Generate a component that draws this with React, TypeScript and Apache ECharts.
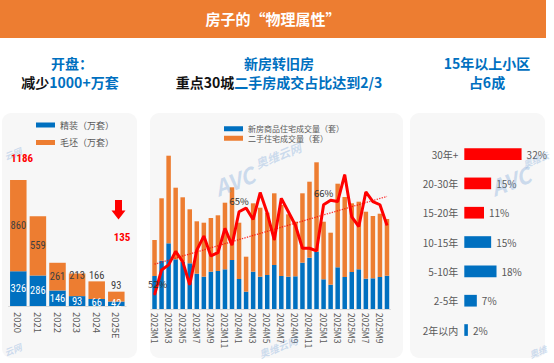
import React, { useEffect, useRef } from "react";
import * as echarts from "echarts";

// ---- Left panel: 开盘 (万套)
const leftYears = ["2020", "2021", "2022", "2023", "2024", "2025E"];
const leftDecorated = [326, 286, 146, 93, 66, 42];
const leftRough = [860, 559, 261, 213, 166, 93];
const leftRoughLabelPos = ["inside", "inside", "inside", "insideTop", "top", "top"];
const leftTotalFirst = "1186";
const leftTotalLast = "135";

// ---- Middle panel: 30城 成交 (relative units)
const months = [
  "2023M1", "2023M2", "2023M3", "2023M4", "2023M5", "2023M6", "2023M7", "2023M8", "2023M9", "2023M10", "2023M11", "2023M12",
  "2024M1", "2024M2", "2024M3", "2024M4", "2024M5", "2024M6", "2024M7", "2024M8", "2024M9", "2024M10", "2024M11", "2024M12",
  "2025M1", "2025M2", "2025M3", "2025M4", "2025M5", "2025M6", "2025M7", "2025M8", "2025M9", "2025M10",
];
const newHomes = [
  33, 48.3, 65.7, 49.7, 47.3, 45.7, 35.3, 32.3, 37.3, 38, 39.7, 49,
  30, 17.3, 37.3, 32.3, 34, 44, 33, 32.3, 32.7, 46.3, 51.3, 57.3,
  29.7, 24.3, 41.7, 32, 37, 39.7, 30.3, 30.7, 32, 33.3,
];
const secondHomes = [
  36, 62.4, 87.6, 71.6, 64.4, 54, 52.4, 54, 53.7, 55.7, 66.6, 72.7,
  56.3, 35, 68.4, 69, 62.3, 71.7, 71, 62.4, 54.6, 69.4, 76, 89.4,
  57.6, 52, 83.6, 80, 68.7, 67.6, 67, 62.3, 63.3, 56.7,
];
const secondShare = [
  52, 55.9, 56.7, 58.8, 57.2, 53.6, 59, 61.2, 58.1, 58.6, 62.4, 59.8,
  65, 65.6, 63.8, 68, 64.8, 60.6, 67.1, 65, 62.9, 59.3, 59.3, 58.9,
  66.1, 66.8, 66.6, 70.8, 64.2, 62.7, 68.1, 66.6, 66.1, 62.9,
];
const shareLabelIndex = [0, 12, 24];
const trendEnds = [56.8, 67.4];

// ---- Right panel: 房龄结构
const ageCats = ["30年+", "20-30年", "15-20年", "10-15年", "5-10年", "2-5年", "2年以内"];
const ageShares = [32, 15, 11, 15, 18, 7, 2];
const ageHighlight = [true, true, true, false, false, false, false];

const BLUE = "#0070C0";
const ORANGE = "#ED7D31";
const RED = "#FF0000";
const GRAY = "#595959";
const FONT = "'Noto Sans CJK SC', 'Noto Sans', sans-serif";
const NUMFONT = "'Liberation Sans Narrow', 'Roboto Condensed', 'Noto Sans CJK SC', sans-serif";

function txt(x: number, y: number, style: any, extra: any = {}) {
  return {
    type: "text",
    x,
    y,
    ...extra,
    style: {
      align: "center",
      verticalAlign: "middle",
      textAlign: "center",
      textVerticalAlign: "middle",
      fontFamily: FONT,
      ...style,
    },
  };
}

function watermark(x: number, y: number, text: string, size: number) {
  return txt(
    x,
    y,
    { text, fill: "rgba(120,165,215,0.35)", fontSize: size, fontWeight: "bold", fontStyle: "italic" },
    { rotation: 0.38, z: 100 }
  );
}

const titleRich = (a: string, b: string) => ({
  text: `{k|${a}}{b|${b}}`,
  lineHeight: 16,
  rich: {
    k: { fill: "#111111", fontSize: 14, fontWeight: "bold", fontFamily: FONT, lineHeight: 16 },
    b: { fill: BLUE, fontSize: 14, fontWeight: "bold", fontFamily: FONT, lineHeight: 16 },
  },
});

export default function App() {
  const ref = useRef<HTMLDivElement>(null);

  useEffect(() => {
    if (!ref.current) return;
    const chart = echarts.init(ref.current, null, { renderer: "svg" });

    const panel = (x: number, w: number) => ({
      type: "rect",
      z: -10,
      shape: { x, y: 113, width: w, height: 245, r: 9 },
      style: { fill: "#F7F7F7" },
    });

    const blueTitle = (text: string) => ({ text, fill: BLUE, fontSize: 14, fontWeight: "bold", lineHeight: 16 });

    const option: any = {
      animation: false,
      backgroundColor: "#ffffff",
      textStyle: { fontFamily: FONT },
      graphic: [
        { type: "rect", z: -10, shape: { x: 0, y: 0, width: 546, height: 38 }, style: { fill: ORANGE } },
        txt(273, 18, { text: "房子的“物理属性”", fill: "#ffffff", fontSize: 15, fontWeight: "bold" }),
        panel(2, 135),
        panel(150, 253),
        panel(410, 135),
        txt(72, 62.5, blueTitle("开盘：")),
        txt(70, 81.5, titleRich("减少", "1000+万套")),
        txt(279, 62.5, blueTitle("新房转旧房")),
        txt(279, 81.5, titleRich("重点30城", "二手房成交占比达到2/3")),
        txt(487, 62.5, blueTitle("15年以上小区")),
        txt(487, 81.5, blueTitle("占6成")),
        // left annotations
        txt(22, 158, { text: leftTotalFirst, fill: RED, fontSize: 11, fontWeight: "bold", fontFamily: NUMFONT }),
        txt(122, 237, { text: leftTotalLast, fill: RED, fontSize: 11, fontWeight: "bold", fontFamily: NUMFONT }),
        {
          type: "polygon",
          shape: {
            points: [
              [115, 200], [122, 200], [122, 210.5], [125.5, 210.5], [118.5, 219.5], [111.5, 210.5], [115, 210.5],
            ],
          },
          style: { fill: RED },
        },
        // watermarks
        watermark(234, 180, "AVC", 22),
        watermark(278, 155, "奥维云网", 12),
        watermark(510, 180, "AVC", 22),
        watermark(536, 160, "奥维云", 9),
        watermark(13, 154, "云网", 9),
        watermark(13, 350, "云网", 9),
        watermark(278, 347, "奥维云网", 10),
        watermark(538, 352, "奥维", 9),
      ],
      legend: [
        {
          orient: "vertical",
          left: 31,
          top: 114,
          itemWidth: 19,
          itemHeight: 5,
          itemGap: 5.5,
          icon: "rect",
          textStyle: { fontSize: 9, color: GRAY, lineHeight: 12, fontFamily: FONT },
          data: ["精装（万套）", "毛坯（万套）"],
        },
        {
          orient: "vertical",
          left: 219,
          top: 119,
          itemWidth: 19,
          itemHeight: 5,
          itemGap: 0,
          icon: "rect",
          textStyle: { fontSize: 8, color: GRAY, lineHeight: 9.5, fontFamily: FONT },
          data: ["新房商品住宅成交量（套）", "二手住宅成交量（套）"],
        },
      ],
      grid: [
        { left: 8.5, width: 117.6, top: 157.3, bottom: 57 },
        { left: 151, right: 163.5, top: 150, bottom: 54 },
        { left: 464.3, right: 18.1, top: 139.4, bottom: 18.3 },
      ],
      xAxis: [
        {
          type: "category",
          gridIndex: 0,
          data: leftYears,
          axisLine: { lineStyle: { color: "#D9D9D9" } },
          axisTick: { show: false },
          axisLabel: { rotate: -90, fontSize: 9.5, color: GRAY, margin: 6, fontFamily: FONT },
        },
        {
          type: "category",
          gridIndex: 1,
          data: months,
          axisLine: { lineStyle: { color: "#D9D9D9" } },
          axisTick: { show: false },
          axisLabel: { rotate: -90, interval: 1, fontSize: 8.5, color: GRAY, margin: 4, fontFamily: FONT },
        },
        { type: "value", gridIndex: 2, min: 0, max: 40, show: false },
      ],
      yAxis: [
        { type: "value", gridIndex: 0, min: 0, max: 1400, show: false },
        { type: "value", gridIndex: 1, min: 0, max: 159, show: false },
        { type: "value", gridIndex: 1, min: 49.8, max: 74.66, show: false },
        {
          type: "category",
          gridIndex: 2,
          data: ageCats,
          inverse: true,
          axisLine: { show: false },
          axisTick: { show: false },
          axisLabel: { fontSize: 10, color: GRAY, margin: 6, fontFamily: FONT },
        },
      ],
      series: [
        {
          name: "精装（万套）",
          type: "bar",
          stack: "left",
          xAxisIndex: 0,
          yAxisIndex: 0,
          barWidth: 16.5,
          itemStyle: { color: BLUE },
          label: { show: true, position: "inside", color: "#ffffff", fontSize: 10.5, fontFamily: NUMFONT },
          data: leftDecorated,
        },
        {
          name: "毛坯（万套）",
          type: "bar",
          stack: "left",
          xAxisIndex: 0,
          yAxisIndex: 0,
          barWidth: 16.5,
          itemStyle: { color: ORANGE },
          data: leftRough.map((v, i) => ({
            value: v,
            label: {
              show: true,
              position: leftRoughLabelPos[i],
              distance: leftRoughLabelPos[i] === "insideTop" ? -3 : 1,
              color: "#404040",
              fontSize: 10.5,
              fontFamily: NUMFONT,
            },
          })),
        },
        {
          name: "新房商品住宅成交量（套）",
          type: "bar",
          stack: "mid",
          xAxisIndex: 1,
          yAxisIndex: 1,
          barWidth: 4.5,
          itemStyle: { color: BLUE },
          data: newHomes,
        },
        {
          name: "二手住宅成交量（套）",
          type: "bar",
          stack: "mid",
          xAxisIndex: 1,
          yAxisIndex: 1,
          barWidth: 4.5,
          itemStyle: { color: ORANGE },
          data: secondHomes,
        },
        {
          name: "二手房占比",
          type: "line",
          xAxisIndex: 1,
          yAxisIndex: 2,
          symbol: "circle",
          symbolSize: 1,
          showSymbol: true,
          showAllSymbol: true,
          z: 5,
          lineStyle: { color: RED, width: 3 },
          itemStyle: { color: RED },
          label: { show: false },
          data: secondShare.map((v, i) => ({
            value: v,
            label: {
              show: shareLabelIndex.includes(i),
              position: "top",
              distance: 6,
              offset: i === 0 ? [3, 0] : [0, 0],
              color: "#333333",
              fontSize: 9.5,
              fontFamily: FONT,
              formatter: (p: any) => Math.round(p.value) + "%",
            },
          })),
          markLine: {
            silent: true,
            symbol: "none",
            label: { show: false },
            lineStyle: { color: RED, type: "dotted", width: 1.3, opacity: 0.8 },
            data: [
              [
                { coord: [months[0], trendEnds[0]] },
                { coord: [months[months.length - 1], trendEnds[1]] },
              ],
            ],
          },
        },
        {
          name: "房龄",
          type: "bar",
          xAxisIndex: 2,
          yAxisIndex: 3,
          barWidth: 11.7,
          data: ageShares.map((v, i) => ({
            value: v,
            itemStyle: { color: ageHighlight[i] ? RED : BLUE },
          })),
          label: {
            show: true,
            position: "right",
            distance: 5,
            color: GRAY,
            fontSize: 10,
            fontFamily: FONT,
            formatter: "{c}%",
          },
        },
      ],
    };

    chart.setOption(option);
    return () => chart.dispose();
  }, []);

  return (
    <div
      ref={ref}
      style={{ position: "fixed", left: 0, top: 0, width: 554, height: 363, background: "#fff" }}
    />
  );
}
